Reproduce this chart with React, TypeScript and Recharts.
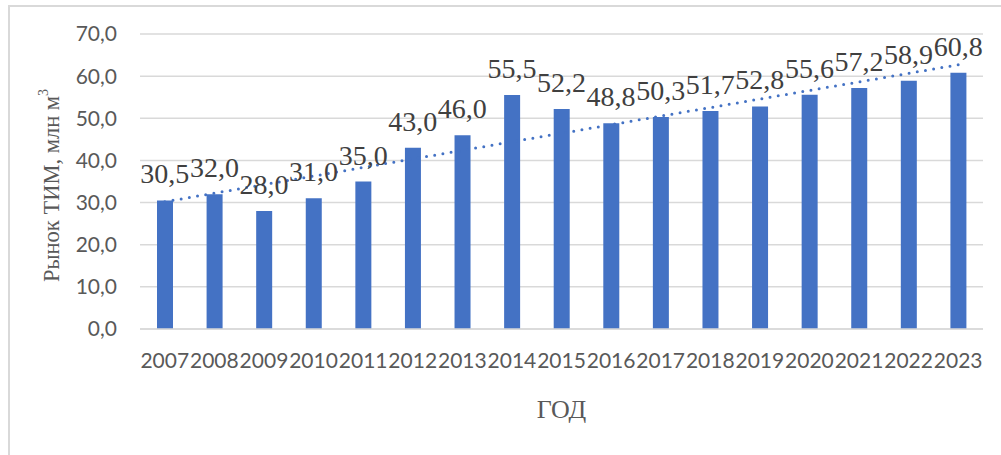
import React from 'react';
import { ComposedChart, Bar, Line, XAxis, YAxis, CartesianGrid, LabelList, Label } from 'recharts';

const years = ['2007', '2008', '2009', '2010', '2011', '2012', '2013', '2014', '2015', '2016', '2017', '2018', '2019', '2020', '2021', '2022', '2023'];
const marketValues = [30.5, 32.0, 28.0, 31.0, 35.0, 43.0, 46.0, 55.5, 52.2, 48.8, 50.3, 51.7, 52.8, 55.6, 57.2, 58.9, 60.8];
const trendStart = 30.2;
const trendEnd = 62.7;
const yTicks = [0, 10, 20, 30, 40, 50, 60, 70];

const data = years.map((year, i) => ({
  year,
  value: marketValues[i],
  trend: i === 0 ? trendStart : i === years.length - 1 ? trendEnd : null,
}));

const fmt = (v: any) => Number(v).toFixed(1).replace('.', ',');

const BLUE = '#4472C4';
const GRID = '#D9D9D9';
const TICK = '#595959';
const SERIF = '"Liberation Serif", "Times New Roman", serif';
const SANS = 'Lato, Carlito, Calibri, sans-serif';

const YTitle = (props: any) => {
  const vb = props.viewBox || { x: 0, y: 0, width: 0, height: 0 };
  const cx = vb.x + 51;
  const cy = vb.y + vb.height / 2 + 4;
  return (
    <text
      x={cx}
      y={cy}
      transform={`rotate(-90, ${cx}, ${cy})`}
      textAnchor="middle"
      dominantBaseline="central"
      fontFamily={SERIF}
      fontSize={22.5}
      fill={TICK}
    >
      Рынок ТИМ, млн м
      <tspan fontSize={14} dy={-8}>3</tspan>
    </text>
  );
};

const XTitle = (props: any) => {
  const vb = props.viewBox || { x: 0, y: 0, width: 0, height: 0 };
  const cx = vb.x + vb.width / 2;
  const cy = vb.y + 89;
  return (
    <text x={cx} y={cy} textAnchor="middle" fontFamily={SERIF} fontSize={26} fill={TICK}>
      ГОД
    </text>
  );
};

const ValueLabel = (props: any) => {
  const { x, y, width, value } = props;
  if (value == null) return null;
  const cx = width ? x + width / 2 : x;
  return (
    <text x={cx} y={y - 17} textAnchor="middle" fontFamily={SERIF} fontSize={28} fill="#404040">
      {fmt(value)}
    </text>
  );
};

export default function App() {
  return (
    <div style={{ position: 'absolute', left: 0, top: 0, width: 1001, height: 455, background: '#fff' }}>
      <div
        style={{
          position: 'absolute',
          left: 8,
          top: 5,
          width: 1010,
          height: 470,
          borderLeft: `2px solid ${GRID}`,
          borderTop: `2px solid ${GRID}`,
          boxSizing: 'border-box',
        }}
      />
      <div style={{ position: 'absolute', left: 0, top: 0 }}>
        <ComposedChart width={1001} height={455} data={data} margin={{ top: 34, right: 18, bottom: 0, left: 0 }} barCategoryGap={0}>
          <CartesianGrid vertical={false} stroke={GRID} strokeWidth={1.5} />
          <XAxis
            dataKey="year"
            height={126}
            tickSize={0}
            tickMargin={24}
            axisLine={{ stroke: GRID, strokeWidth: 1.5 }}
            tickLine={false}
            interval={0}
            tick={{ fill: TICK, fontSize: 21, fontFamily: SANS }}
          >
            <Label content={<XTitle />} position="insideBottom" />
          </XAxis>
          <YAxis
            width={140}
            domain={[0, 70]}
            ticks={yTicks}
            tickFormatter={fmt}
            tickSize={0}
            tickMargin={23}
            axisLine={false}
            tickLine={false}
            tick={{ fill: TICK, fontSize: 21, fontFamily: SANS }}
          >
            <Label content={<YTitle />} position="insideLeft" />
          </YAxis>
          <Bar dataKey="value" fill={BLUE} barSize={16} isAnimationActive={false} />
          <Line
            dataKey="trend"
            connectNulls
            stroke={BLUE}
            strokeWidth={3}
            strokeDasharray="0 8.3"
            strokeLinecap="round"
            dot={false}
            activeDot={false}
            isAnimationActive={false}
          />
          <Line
            dataKey="value"
            stroke="none"
            strokeWidth={0}
            dot={false}
            activeDot={false}
            isAnimationActive={false}
          >
            <LabelList dataKey="value" content={<ValueLabel />} />
          </Line>
        </ComposedChart>
      </div>
    </div>
  );
}
